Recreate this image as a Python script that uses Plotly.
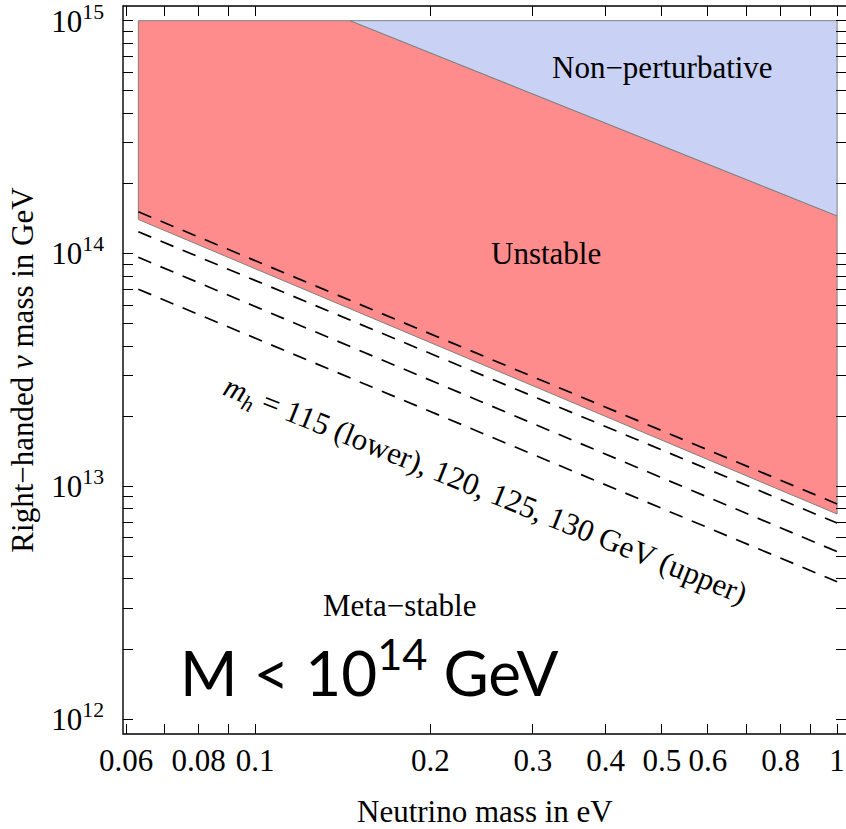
import plotly.graph_objects as go

# ---------------- data ----------------
m_nu_edges = [0.063, 1.0]                 # neutrino mass range of the regions (eV)
M_top = 1.0e15                            # top of the plotted region (GeV)
unstable_lower = [1.40e14, 7.6e12]        # lower boundary of unstable region at m_nu_edges
nonpert_corner_m = 0.1456                 # where the non-perturbative boundary meets M_top
nonpert_right_M = 1.45e14                 # non-perturbative boundary at m_nu = 1 eV

mh_values = [115, 120, 125, 130]          # Higgs masses of the dashed lines (GeV)
dashed_left = [1.51e14, 1.24e14, 9.63e13, 7.02e13]   # at m_nu = 0.063
dashed_right = [8.4e12, 6.95e12, 5.24e12, 3.89e12]   # at m_nu = 1

x_tickvals = [0.06, 0.07, 0.08, 0.09, 0.1, 0.2, 0.3, 0.4, 0.5, 0.6, 0.7, 0.8, 0.9, 1.0]
x_ticktext = ["0.06", "", "0.08", "", "0.1", "0.2", "0.3", "0.4", "0.5", "0.6", "", "0.8", "", "1"]

y_tickvals = [1e12, 2e12, 3e12, 4e12, 5e12, 6e12, 7e12, 8e12, 9e12,
              1e13, 2e13, 3e13, 4e13, 5e13, 6e13, 7e13, 8e13, 9e13,
              1e14, 2e14, 3e14, 4e14, 5e14, 6e14, 7e14, 8e14, 9e14, 1e15]
y_ticktext = ["10<sup>12</sup>", "", "", "", "", "", "", "", "",
              "10<sup>13</sup>", "", "", "", "", "", "", "", "",
              "10<sup>14</sup>", "", "", "", "", "", "", "", "",
              "10<sup>15</sup>"]

# ---------------- styling ----------------
RED = "rgb(255,140,140)"
BLUE = "rgb(201,210,245)"
EDGE = "rgb(128,128,128)"
SERIF = "Liberation Serif"
FS = 31

fig = go.Figure()

# Unstable (red) region
fig.add_trace(go.Scatter(
    x=[m_nu_edges[0], m_nu_edges[0], nonpert_corner_m, m_nu_edges[1], m_nu_edges[1], m_nu_edges[0]],
    y=[unstable_lower[0], M_top, M_top, nonpert_right_M, unstable_lower[1], unstable_lower[0]],
    fill="toself", fillcolor=RED, mode="lines",
    line=dict(color=EDGE, width=1), hoverinfo="skip", showlegend=False))

# Non-perturbative (blue) region
fig.add_trace(go.Scatter(
    x=[nonpert_corner_m, m_nu_edges[1], m_nu_edges[1], nonpert_corner_m],
    y=[M_top, M_top, nonpert_right_M, M_top],
    fill="toself", fillcolor=BLUE, mode="lines",
    line=dict(color=EDGE, width=1), hoverinfo="skip", showlegend=False))

# Dashed m_h lines
for mh, yl, yr in zip(mh_values, dashed_left, dashed_right):
    fig.add_trace(go.Scatter(
        x=m_nu_edges, y=[yl, yr], mode="lines", name=f"m_h={mh}",
        line=dict(color="black", width=1.7, dash="14px,10px"),
        hoverinfo="skip", showlegend=False))

axis_common = dict(
    type="log", showgrid=False, zeroline=False, showline=False,
    ticks="inside", ticklen=10, tickwidth=1, tickcolor="black",
    mirror="ticks", tickmode="array", ticklabeloverflow="allow",
    automargin=False,
    tickfont=dict(family=SERIF, size=FS, color="black"),
)

fig.update_layout(
    width=846, height=829,
    margin=dict(l=123, r=0, t=6, b=95),
    paper_bgcolor="white", plot_bgcolor="white",
    xaxis=dict(axis_common, range=[-1.227, 0.0153],
               tickvals=x_tickvals, ticktext=x_ticktext, ticklabelstandoff=5),
    yaxis=dict(axis_common, range=[11.936, 15.063],
               tickvals=y_tickvals, ticktext=y_ticktext, ticklabelstandoff=18,
               title=dict(text="Right−handed <i>ν</i> mass in GeV", standoff=8,
                          font=dict(family=SERIF, size=FS, color="black"))),
    shapes=[dict(type="rect", xref="paper", yref="paper", x0=0, x1=1.02, y0=0, y1=1,
                 line=dict(color="black", width=1.4), fillcolor="rgba(0,0,0,0)", layer="above")],
    annotations=[
        # x-axis title
        dict(x=0.5, y=-0.107, xref="paper", yref="paper", xanchor="center", yanchor="middle",
             text="Neutrino mass in eV", showarrow=False,
             font=dict(family=SERIF, size=FS, color="black")),
        dict(x=-0.3008, y=14.797, xref="x", yref="y", text="Non−perturbative", showarrow=False,
             font=dict(family=SERIF, size=FS, color="black")),
        dict(x=-0.5002, y=14.0, xref="x", yref="y", text="Unstable", showarrow=False,
             font=dict(family=SERIF, size=FS, color="black")),
        dict(x=-0.751, y=12.486, xref="x", yref="y", text="Meta−stable", showarrow=False,
             font=dict(family=SERIF, size=FS, color="black")),
        dict(x=-0.605, y=12.976, xref="x", yref="y", textangle=22,
             text="<i>m</i><sub><i>h</i></sub> = 115 (lower), 120, 125, 130 GeV (upper)",
             showarrow=False, font=dict(family=SERIF, size=FS, color="black")),
        dict(x=0.076, y=0.0907, xref="paper", yref="paper", xanchor="left", yanchor="middle",
             text="M &lt; 10<sup>14</sup> GeV", showarrow=False,
             font=dict(family="Lato", size=62, color="black")),
    ],
)

fig.write_html("out.html")
